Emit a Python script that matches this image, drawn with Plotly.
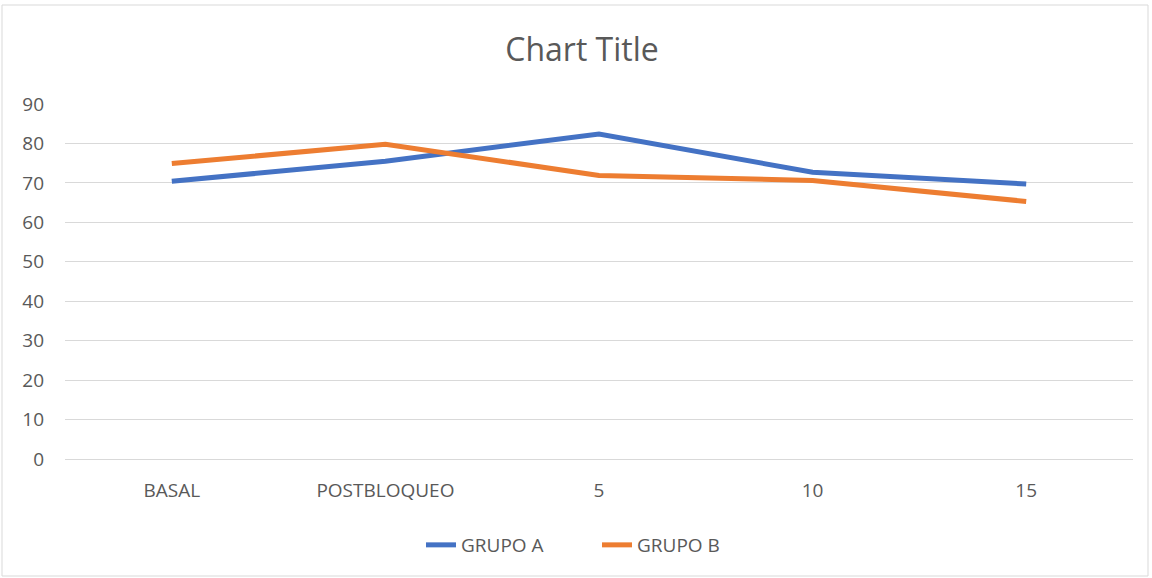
import plotly.graph_objects as go

categories = ["BASAL", "POSTBLOQUEO", "5", "10", "15"]
grupo_a = [70.4, 75.5, 82.4, 72.7, 69.7]
grupo_b = [74.9, 79.8, 71.9, 70.6, 65.3]
y_ticks = [0, 10, 20, 30, 40, 50, 60, 70, 80, 90]

W, H = 1152, 578
ml, mr, mt, mb = 65, 19, 104, 119
pw, ph = W - ml - mr, H - mt - mb

fig = go.Figure()
fig.add_trace(go.Scatter(x=categories, y=grupo_a, name="GRUPO A", mode="lines",
                         line=dict(color="#4472C4", width=5, shape="linear")))
fig.add_trace(go.Scatter(x=categories, y=grupo_b, name="GRUPO B", mode="lines",
                         line=dict(color="#ED7D31", width=5, shape="linear")))

font_fam = "Open Sans, Liberation Sans, sans-serif"
fig.update_layout(
    width=W, height=H,
    margin=dict(l=ml, r=mr, t=mt, b=mb),
    paper_bgcolor="white", plot_bgcolor="white",
    font=dict(family=font_fam, color="#595959", size=19),
    title=dict(text="Chart Title", x=582 / W, xanchor="center",
               y=1 - 50 / H, yanchor="middle",
               font=dict(size=32, color="#595959", family=font_fam)),
    xaxis=dict(type="category", range=[-0.5, 4.5], showgrid=False,
               showline=True, linecolor="#d9d9d9", linewidth=1,
               ticks="", ticklabelstandoff=14,
               tickfont=dict(size=19, color="#595959"), zeroline=False),
    yaxis=dict(range=[0, 90], tickvals=y_ticks, showgrid=True, gridcolor="#d9d9d9",
               gridwidth=1, zeroline=False, showline=False, ticks="",
               ticklabelstandoff=20,
               tickfont=dict(size=19, color="#595959")),
    legend=dict(orientation="h", x=(597 - ml) / pw, xanchor="center",
                y=-(545 - (mt + ph)) / ph, yanchor="middle",
                font=dict(size=19, color="#595959"),
                entrywidth=131, entrywidthmode="pixels",
                tracegroupgap=0),
    showlegend=True,
    shapes=[dict(type="rect", xref="paper", yref="paper",
                 x0=(2 - ml) / pw, x1=(W - 4 - ml) / pw,
                 y0=1 + (mt - (H - 2)) / ph, y1=1 + (mt - 5) / ph,
                 line=dict(color="#d9d9d9", width=1), fillcolor="rgba(0,0,0,0)",
                 layer="below")],
)

fig.write_html("out.html", config={"displayModeBar": False},
               post_script="document.body.style.margin='0';")
